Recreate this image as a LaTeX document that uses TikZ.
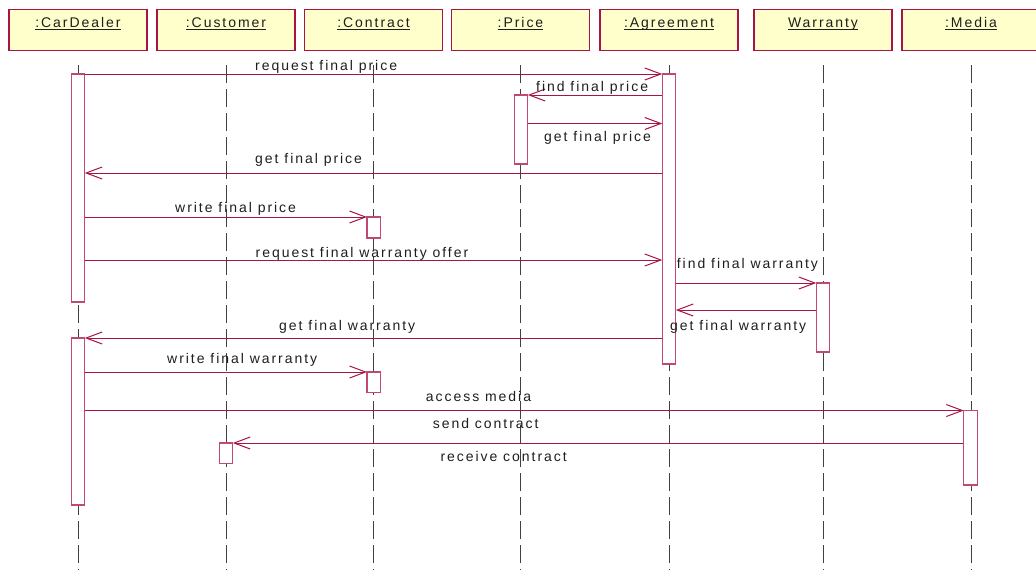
\documentclass[tikz,border=0pt]{standalone}
\usepackage{fontspec}
\setmainfont[LetterSpace=14]{Liberation Sans}
\usetikzlibrary{arrows.meta}
\definecolor{crim}{RGB}{168,20,72}
\definecolor{actc}{RGB}{192,72,118}
\definecolor{boxf}{RGB}{255,255,204}
\definecolor{txt}{RGB}{30,30,30}
\newcommand\hdul[1]{\setbox0\hbox{#1}\rlap{\rule[-2.4pt]{\wd0}{0.9pt}}\box0}
\pgfdeclarelayer{msglayer}
\pgfdeclarelayer{lifelayer}
\pgfsetlayers{msglayer,lifelayer,main}
\begin{document}
\begin{tikzpicture}[x=1pt,y=-1pt,font=\fontsize{14}{16}\selectfont,
  hdr/.style={draw=crim, line width=1.2pt, fill=boxf, minimum width=138pt,
    inner xsep=0pt, inner ysep=7pt, text height=10.5pt, text depth=16.5pt,
    anchor=north, text=txt},
  act/.style={draw=actc, fill=white, line width=1.2pt, minimum width=13.5pt,
    inner sep=0pt, outer sep=0pt},
  msg/.style={draw=crim, line width=1pt, -{Straight Barb[length=16pt,width=12pt]}},
  life/.style={draw=black!75, line width=0.95pt, dash pattern=on 18pt off 6pt},
  lbl/.style={anchor=base west, inner sep=0pt, text=txt}]
\useasboundingbox (0,0) rectangle (1036,570);
\coordinate (bot) at (0,570);
% header boxes
\node[hdr] (cdh) at (78,9) {\hdul{:CarDealer}};
\node[hdr] (cuh) at (226,9) {\hdul{:Customer}};
\node[hdr] (coh) at (373.5,9) {\hdul{:Contract}};
\node[hdr] (prh) at (520.5,9) {\hdul{:Price}};
\node[hdr] (agh) at (669,9) {\hdul{:Agreement}};
\node[hdr] (wah) at (823,9) {\hdul{Warranty}};
\node[hdr] (meh) at (971,9) {\hdul{:Media}};
% lifelines
\begin{pgfonlayer}{lifelayer}
\foreach \h in {cdh,cuh,coh,prh,agh,wah,meh}
  \draw[life] ([yshift=-14pt]\h.south) -- (\h.south |- bot);
\end{pgfonlayer}
% activations
\node[act, minimum height=228pt] (cd1) at (78,188) {};
\node[act, minimum height=167pt] (cd2) at (78,421.5) {};
\node[act, minimum height=290pt] (ag1) at (669,219) {};
\node[act, minimum height=69pt] (pr1) at (521,129.5) {};
\node[act, minimum height=21pt] (co1) at (373.75,227.5) {};
\node[act, minimum height=20.5pt] (co2) at (373.75,382.25) {};
\node[act, minimum height=69pt] (wa1) at (823,317.5) {};
\node[act, minimum height=74.5pt] (me1) at (970.5,447.75) {};
\node[act, minimum height=20.5pt] (cu1) at (226,453.25) {};
% message levels
\coordinate (y3) at (0,123.5);
\coordinate (y4) at (0,173);
\coordinate (y6) at (0,260);
\coordinate (y8) at (0,310);
% messages
\begin{pgfonlayer}{msglayer}
\draw[msg] (cd1.north east) -- (ag1.north west);
\draw[msg] (ag1.west |- pr1.north) -- (pr1.north east);
\draw[msg] (pr1.east |- y3) -- (ag1.west |- y3);
\draw[msg] (ag1.west |- y4) -- (cd1.east |- y4);
\draw[msg] (cd1.east |- co1.north) -- (co1.north west);
\draw[msg] (cd1.east |- y6) -- (ag1.west |- y6);
\draw[msg] (ag1.east |- wa1.north) -- (wa1.north west);
\draw[msg] (wa1.west |- y8) -- (ag1.east |- y8);
\draw[msg] (ag1.west |- cd2.north) -- (cd2.north east);
\draw[msg] (cd2.east |- co2.north) -- (co2.north west);
\draw[msg] (cd2.east |- me1.north) -- (me1.north west);
\draw[msg] (me1.west |- cu1.north) -- (cu1.north east);
\end{pgfonlayer}
% labels
\node[lbl] (l1) at (255,70) {request final price};
\node[lbl] (l2) at (536,91.7) {find final price};
\node[lbl] (l3) at (544,141.5) {get final price};
\node[lbl] (l4) at (255,163) {get final price};
\node[lbl] (l5) at (175,212.3) {write final price};
\node[lbl] (l6) at (255.5,257.5) {request final warranty offer};
\node[lbl] (l7) at (676.7,268.3) {find final warranty};
\node[lbl] (l8) at (670,330.7) {get final warranty};
\node[lbl] (l9) at (279,330) {get final warranty};
\node[lbl] (l10) at (167,363.3) {write final warranty};
\node[lbl] (l11) at (425.7,401.7) {access media};
\node[lbl] (l12) at (432.7,428.3) {send contract};
\node[lbl] (l13) at (440.3,461.7) {receive contract};
\end{tikzpicture}
\end{document}
